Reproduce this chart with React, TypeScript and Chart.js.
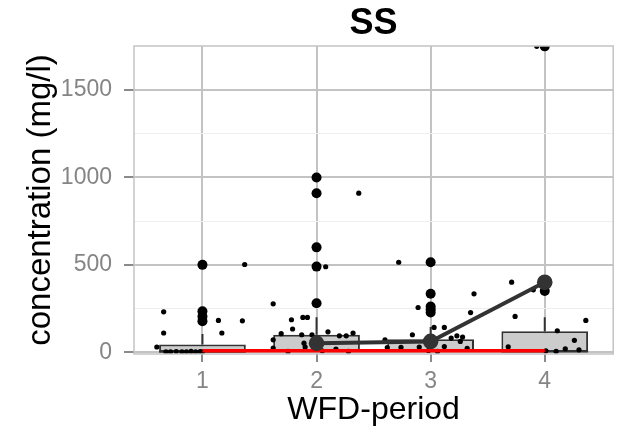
import React, { useEffect, useRef } from 'react';
import { Chart, registerables } from 'chart.js';

Chart.register(...registerables);

// ---- data ----
const periods = [1, 2, 3, 4];
const periodLabels = ['1', '2', '3', '4'];
const boxQ1 = [2, 5, 5, 3];
const boxMedian = [5, 12, 10, 6];
const boxQ3 = [44, 100, 75, 120];
const whiskerHigh = [105, 200, 145, 200];
const meanValues = [null, 52, 62, 400];
const thresholdValues = [8, 8, 8, 8];

const outlierPeriod = [1, 1, 1, 1, 2, 2, 2, 2, 2, 3, 3, 3, 3, 3, 4, 4];
const outlierValue = [500, 235, 205, 178, 1000, 910, 600, 490, 280, 515, 335, 262, 245, 228, 1750, 350];

const jitterX = [
  0.66, 0.66, 1.14, 1.17, 1.35, 1.37, 0.6, 0.68, 0.72, 0.77, 0.82, 0.86, 0.9, 0.94, 0.98, 1.0,
  2.37, 2.08, 1.62, 1.78, 1.88, 1.92, 1.79, 1.69, 1.62, 1.87, 2.1, 2.2, 2.26, 2.32, 1.89, 1.62, 2.17, 1.96, 1.9, 2.05, 1.75, 2.28,
  2.72, 3.38, 2.89, 3.35, 3.03, 3.12, 2.84, 3.18, 3.23, 3.28, 3.26, 2.6, 3.12, 3.32, 2.9, 2.74, 2.62, 2.98, 3.06,
  3.71, 3.9, 3.74, 4.36, 4.11, 4.26, 4.18, 4.3, 3.68, 4.01, 4.1, 3.93,
];
const jitterY = [
  231, 110, 182, 110, 180, 502, 30, 3, 2, 4, 2, 3, 5, 2, 4, 3,
  910, 489, 277, 186, 199, 199, 133, 106, 71, 100, 117, 94, 94, 110, 52, 24, 18, 100, 30, 8, 5, 5,
  515, 334, 256, 227, 142, 142, 100, 81, 94, 87, 62, 71, 33, 22, 30, 28, 27, 10, 5,
  401, 357, 205, 182, 123, 68, 20, 14, 31, 8, 5, 1750,
];

const yMajorTicks = [0, 500, 1000, 1500];
const yMinorTicks = [250, 750, 1250];
const yMin = -10;
const yMax = 1752;
const xMin = 0.4;
const xMax = 4.6;
const BOX_HALF = 0.38;

const FONT = "'Liberation Sans', Arial, sans-serif";
const MAJOR_GRID = '#C3C3C3';
const MINOR_GRID = '#EEEEEE';
const TEXT_GREY = '#858585';

const panelBorder = {
  id: 'panelBorder',
  afterDatasetsDraw(chart: any) {
    const { ctx, chartArea } = chart;
    ctx.save();
    ctx.strokeStyle = MAJOR_GRID;
    ctx.lineWidth = 1.5;
    ctx.strokeRect(chartArea.left, chartArea.top, chartArea.right - chartArea.left, chartArea.bottom - chartArea.top);
    ctx.restore();
  },
};

export default function App() {
  const ref = useRef<HTMLCanvasElement | null>(null);

  useEffect(() => {
    if (!ref.current) return;

    const boxData = periods.map((p, i) => ({ x: p, y: [boxQ1[i], boxQ3[i]] }));
    const whiskerData: any[] = [];
    periods.forEach((p, i) => {
      whiskerData.push({ x: p, y: boxQ3[i] });
      whiskerData.push({ x: p, y: whiskerHigh[i] });
      whiskerData.push({ x: p, y: null });
    });
    const medianData: any[] = [];
    periods.forEach((p, i) => {
      medianData.push({ x: p - BOX_HALF, y: boxMedian[i] });
      medianData.push({ x: p + BOX_HALF, y: boxMedian[i] });
      medianData.push({ x: p + BOX_HALF, y: null });
    });
    const jitterData = jitterX.map((x, i) => ({ x, y: jitterY[i] }));
    const outlierData = outlierPeriod.map((x, i) => ({ x, y: outlierValue[i] }));
    const meanData = periods.map((p, i) => ({ x: p, y: meanValues[i] }));
    const thresholdData = periods.map((p, i) => ({ x: p, y: thresholdValues[i] }));

    const chart = new Chart(ref.current, {
      type: 'bar',
      data: {
        datasets: [
          {
            type: 'line',
            data: meanData as any,
            borderColor: '#333333',
            backgroundColor: '#333333',
            borderWidth: 4,
            pointRadius: 7.8,
            pointBorderWidth: 0,
            pointBackgroundColor: '#333333',
            spanGaps: false,
            order: 1,
          } as any,
          {
            type: 'line',
            data: thresholdData as any,
            borderColor: '#FF0000',
            borderWidth: 3.5,
            pointRadius: 0,
            order: 2,
          } as any,
          {
            type: 'scatter',
            data: outlierData as any,
            backgroundColor: '#000000',
            pointRadius: 5,
            pointBorderWidth: 0,
            order: 3,
          } as any,
          {
            type: 'scatter',
            data: jitterData as any,
            backgroundColor: '#000000',
            pointRadius: 2.6,
            pointBorderWidth: 0,
            order: 4,
          } as any,
          {
            type: 'line',
            data: whiskerData as any,
            borderColor: '#333333',
            borderWidth: 2,
            pointRadius: 0,
            spanGaps: false,
            order: 5,
          } as any,
          {
            type: 'line',
            data: medianData as any,
            borderColor: '#333333',
            borderWidth: 2.5,
            pointRadius: 0,
            spanGaps: false,
            order: 5,
          } as any,
          {
            type: 'bar',
            data: boxData as any,
            backgroundColor: '#CCCCCC',
            borderColor: '#333333',
            borderWidth: 2,
            borderSkipped: false,
            barPercentage: BOX_HALF * 2,
            categoryPercentage: 1,
            order: 6,
          } as any,
        ],
      },
      options: {
        animation: false,
        responsive: false,
        devicePixelRatio: 1,
        layout: { padding: { left: 0, right: 3, top: 0, bottom: 0 } },
        plugins: {
          legend: { display: false },
          tooltip: { enabled: false },
          title: { display: false },
        },
        scales: {
          x: {
            type: 'linear',
            position: 'bottom',
            min: xMin,
            max: xMax,
            offset: false,
            afterBuildTicks: (scale: any) => {
              scale.ticks = periods.map((v) => ({ value: v }));
            },
            afterFit: (scale: any) => {
              scale.height = 79;
            },
            ticks: {
              callback: (v: any) => {
                const i = periods.indexOf(Number(v));
                return i >= 0 ? periodLabels[i] : '';
              },
              color: TEXT_GREY,
              font: { family: FONT, size: 23 },
              padding: 6,
              maxRotation: 0,
              autoSkip: false,
            },
            grid: {
              offset: false,
              color: MAJOR_GRID,
              lineWidth: 2,
              tickLength: 8,
              tickColor: '#8A8A8A',
              tickWidth: 2,
            },
            border: { display: false },
            title: {
              display: true,
              text: 'WFD-period',
              color: '#000000',
              font: { family: FONT, size: 32 },
              padding: { top: 0, bottom: 3.8 },
            },
          },
          xTop: {
            type: 'linear',
            position: 'top',
            min: xMin,
            max: xMax,
            offset: false,
            display: true,
            afterFit: (scale: any) => {
              scale.height = 46;
            },
            ticks: { display: false },
            grid: { display: false, drawTicks: false, offset: false },
            border: { display: false },
            title: {
              display: true,
              text: 'SS',
              color: '#000000',
              font: { family: FONT, size: 36, weight: 'bold' },
              padding: { top: 2, bottom: 0 },
            },
          },
          y: {
            type: 'linear',
            position: 'left',
            min: yMin,
            max: yMax,
            afterBuildTicks: (scale: any) => {
              scale.ticks = [...yMajorTicks, ...yMinorTicks]
                .sort((a, b) => a - b)
                .map((v) => ({ value: v }));
            },
            afterFit: (scale: any) => {
              scale.width = 134;
            },
            ticks: {
              callback: (v: any) => (yMajorTicks.includes(Number(v)) ? String(v) : ''),
              color: TEXT_GREY,
              font: { family: FONT, size: 23 },
              padding: 12,
              autoSkip: false,
            },
            grid: {
              color: (c: any) => (yMajorTicks.includes(c.tick?.value) ? MAJOR_GRID : MINOR_GRID),
              lineWidth: (c: any) => (yMajorTicks.includes(c.tick?.value) ? 2 : 1),
              tickLength: 10,
              tickColor: (c: any) => (yMajorTicks.includes(c.tick?.value) ? '#8A8A8A' : 'rgba(0,0,0,0)'),
              tickWidth: 2,
            },
            border: { display: false },
            title: {
              display: true,
              text: 'concentration (mg/l)',
              color: '#000000',
              font: { family: FONT, size: 33 },
              padding: { top: 21, bottom: 0 },
            },
          },
        },
      } as any,
      plugins: [panelBorder],
    });

    return () => chart.destroy();
  }, []);

  return (
    <div style={{ position: 'absolute', left: 0, top: 0, width: 621, height: 433, background: '#FFFFFF' }}>
      <canvas ref={ref} width={621} height={433} style={{ display: 'block', width: 621, height: 433 }} />
    </div>
  );
}
